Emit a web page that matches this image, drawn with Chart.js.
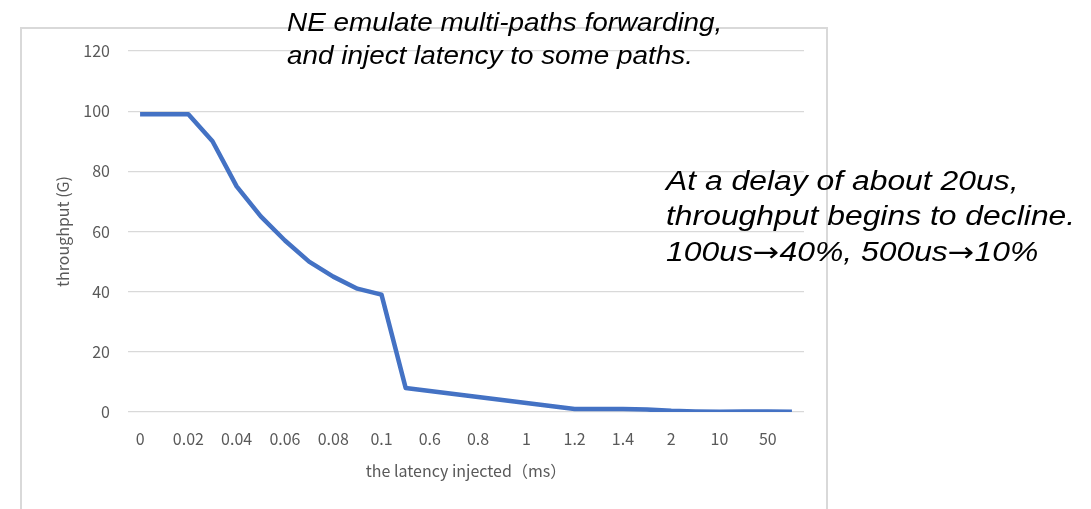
<!DOCTYPE html>
<html>
<head>
<meta charset="utf-8">
<script src="https://cdn.jsdelivr.net/npm/chart.js@4"></script>
<style>
  html, body { margin: 0; padding: 0; background: #fff; }
  #wrap { position: relative; width: 1091px; height: 509px; overflow: hidden; }
  #frame { position: absolute; left: 20px; top: 27px; width: 808px; height: 520px; border: 2px solid #d9d9d9; box-sizing: border-box; }
  canvas { position: absolute; left: 0; top: 0; }
  .note { position: absolute; font-family: "Liberation Sans", Arial, sans-serif; font-style: italic; color: #000; white-space: nowrap; transform-origin: 0 0; }
  .arr { font-family: "DejaVu Sans", sans-serif; font-style: italic; }
</style>
</head>
<body>
<div id="wrap">
  <div id="frame"></div>
  <canvas id="c" width="1091" height="509"></canvas>
  <div class="note" style="left:287px; top:6px; font-size:25px; line-height:33px; transform:scaleX(1.115);">NE emulate multi-paths forwarding,<br>and inject latency to some paths.</div>
  <div class="note" style="left:666px; top:164px; font-size:27px; line-height:35px; transform:scaleX(1.18);">At a delay of about 20us,<br>throughput begins to decline.<br>100us<span class="arr">→</span>40%, 500us<span class="arr">→</span>10%</div>
</div>
<script>
const categories = ["0","0.01","0.02","0.03","0.04","0.05","0.06","0.07","0.08","0.09","0.1","0.5","0.6","0.7","0.8","0.9","1","1.1","1.2","1.3","1.4","1.6","2","5","10","20","50","100"];
const throughput = [99,99,99,90,75,65,57,50,45,41,39,8,7,6,5,4,3,2,1,1,1,0.8,0.4,0.2,0.1,0.2,0.2,0.1];
const yTicks = [0,20,40,60,80,100,120];
const xTitle = "the latency injected（ms）";
const yTitle = "throughput (G)";

const tickFont = { family: "'Noto Sans CJK SC', 'Noto Sans', sans-serif", size: 16 };

new Chart(document.getElementById('c'), {
  type: 'line',
  data: {
    labels: categories,
    datasets: [{
      label: 'throughput',
      data: throughput,
      borderColor: '#4472C4',
      borderWidth: 4.5,
      pointRadius: 0,
      tension: 0,
      fill: false,
      borderJoinStyle: 'round',
      borderCapStyle: 'butt'
    }]
  },
  options: {
    responsive: false,
    animation: false,
    layout: { padding: { left: 20, right: 287, top: 51, bottom: 12 } },
    plugins: { legend: { display: false }, tooltip: { enabled: false } },
    scales: {
      x: {
        offset: true,
        grid: { display: false, drawTicks: false },
        border: { display: false },
        ticks: {
          autoSkip: false, maxRotation: 0, minRotation: 0, padding: 17,
          color: '#595959', font: tickFont,
          callback: function(v, i) { return i % 2 === 0 ? this.getLabelForValue(v) : ''; }
        },
        title: { display: true, text: xTitle, color: '#595959', font: tickFont, padding: { top: 4, bottom: 16 } },
        afterFit: s => { s.height = 509 - 412 - 12; }
      },
      y: {
        min: 0, max: 120,
        afterBuildTicks: s => { s.ticks = yTicks.map(v => ({ value: v })); },
        grid: { color: '#d9d9d9', lineWidth: 1.3, drawTicks: false },
        border: { display: false },
        ticks: { padding: 18, color: '#595959', font: tickFont },
        title: { display: true, text: yTitle, color: '#595959', font: tickFont, padding: { top: 33, bottom: 4 } },
        afterFit: s => { s.width = 108; }
      }
    }
  }
});
</script>
</body>
</html>
